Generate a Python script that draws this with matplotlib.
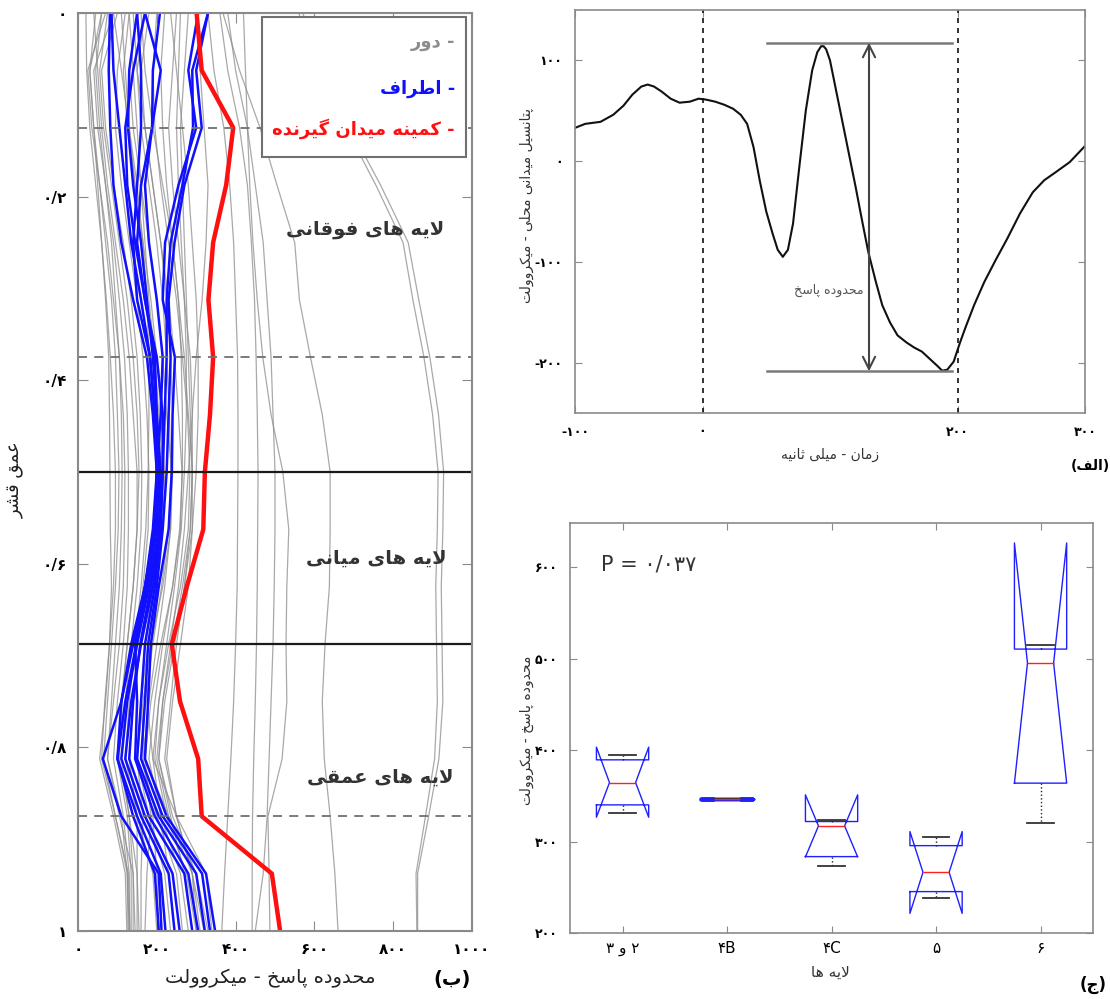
import numpy as np
import matplotlib
matplotlib.use('Agg')
import matplotlib.pyplot as plt
from matplotlib.patches import Rectangle

plt.rcParams['font.family'] = ['DejaVu Sans']

# ------------------------------------------------------
# matplotlib has no Arabic joining / bidi, so shape Persian text by hand

FORMS = {
    'ا': ('\uFE8D', '\uFE8E'), 'آ': ('\uFE81', '\uFE82'),
    'ب': ('\uFE8F', '\uFE90', '\uFE91', '\uFE92'),
    'پ': ('\uFB56', '\uFB57', '\uFB58', '\uFB59'),
    'ت': ('\uFE95', '\uFE96', '\uFE97', '\uFE98'),
    'ث': ('\uFE99', '\uFE9A', '\uFE9B', '\uFE9C'),
    'ج': ('\uFE9D', '\uFE9E', '\uFE9F', '\uFEA0'),
    'ح': ('\uFEA1', '\uFEA2', '\uFEA3', '\uFEA4'),
    'خ': ('\uFEA5', '\uFEA6', '\uFEA7', '\uFEA8'),
    'د': ('\uFEA9', '\uFEAA'), 'ذ': ('\uFEAB', '\uFEAC'),
    'ر': ('\uFEAD', '\uFEAE'), 'ز': ('\uFEAF', '\uFEB0'),
    'س': ('\uFEB1', '\uFEB2', '\uFEB3', '\uFEB4'),
    'ش': ('\uFEB5', '\uFEB6', '\uFEB7', '\uFEB8'),
    'ط': ('\uFEC1', '\uFEC2', '\uFEC3', '\uFEC4'),
    'ع': ('\uFEC9', '\uFECA', '\uFECB', '\uFECC'),
    'ف': ('\uFED1', '\uFED2', '\uFED3', '\uFED4'),
    'ق': ('\uFED5', '\uFED6', '\uFED7', '\uFED8'),
    'ک': ('\uFB8E', '\uFB8F', '\uFB90', '\uFB91'),
    'ك': ('\uFB8E', '\uFB8F', '\uFB90', '\uFB91'),
    'گ': ('\uFB92', '\uFB93', '\uFB94', '\uFB95'),
    'ل': ('\uFEDD', '\uFEDE', '\uFEDF', '\uFEE0'),
    'م': ('\uFEE1', '\uFEE2', '\uFEE3', '\uFEE4'),
    'ن': ('\uFEE5', '\uFEE6', '\uFEE7', '\uFEE8'),
    'ه': ('\uFEE9', '\uFEEA', '\uFEEB', '\uFEEC'),
    'و': ('\uFEED', '\uFEEE'),
    'ی': ('\uFBFC', '\uFBFD', '\uFBFE', '\uFBFF'),
    'ي': ('\uFBFC', '\uFBFD', '\uFBFE', '\uFBFF'),
}


def dual(c):
    return c in FORMS and len(FORMS[c]) == 4


def fa(s):
    res = []
    i, n = 0, len(s)
    while i < n:
        c = s[i]
        prev_join = i > 0 and dual(s[i - 1])
        if c == 'ل' and i + 1 < n and s[i + 1] == 'ا':
            res.append('\uFEFC' if prev_join else '\uFEFB')
            i += 2
            continue
        if c in FORMS:
            f = FORMS[c]
            next_join = dual(c) and i + 1 < n and s[i + 1] in FORMS
            if prev_join and next_join:
                g = f[3]
            elif prev_join:
                g = f[1]
            elif next_join:
                g = f[2]
            else:
                g = f[0]
            res.append(g)
        else:
            res.append({'(': ')', ')': '('}.get(c, c))
        i += 1
    return ''.join(reversed(res))

# ------------------------------------------------------
# (ب) response range vs cortical depth

depth = [0, 0.0625, 0.125, 0.1875, 0.25, 0.3125, 0.375, 0.4375, 0.5,
         0.5625, 0.625, 0.6875, 0.75, 0.8125, 0.875, 0.9375, 1.0]

far_lines = [
    [60, 30, 40, 50, 60, 70, 78, 80, 81, 82, 85, 80, 70, 55, 90, 120, 124],
    [70, 25, 35, 55, 75, 90, 105, 115, 119, 118, 115, 105, 90, 75, 110, 125, 127],
    [90, 40, 50, 70, 90, 105, 118, 125, 128, 128, 125, 115, 100, 90, 115, 130, 130],
    [100, 60, 70, 90, 115, 135, 150, 158, 162, 160, 150, 135, 120, 110, 130, 140, 140],
    [40, 50, 60, 75, 95, 115, 130, 140, 150, 150, 140, 125, 110, 100, 125, 135, 135],
    [120, 100, 95, 110, 130, 150, 165, 175, 180, 178, 165, 150, 140, 130, 150, 150, 150],
    [150, 130, 140, 160, 180, 200, 215, 225, 238, 235, 215, 185, 165, 150, 165, 160, 160],
    [180, 160, 170, 190, 210, 230, 245, 255, 264, 260, 240, 210, 185, 170, 185, 175, 170],
    [200, 190, 195, 210, 230, 250, 265, 278, 284, 280, 260, 230, 205, 190, 210, 230, 245],
    [250, 240, 230, 240, 255, 270, 285, 290, 290, 285, 265, 240, 215, 205, 235, 270, 290],
    [110, 120, 130, 145, 160, 175, 190, 200, 210, 205, 190, 170, 160, 170, 230, 300, 320],
    [130, 140, 150, 160, 170, 180, 195, 205, 215, 212, 200, 185, 175, 190, 250, 325, 340],
    [220, 210, 215, 225, 240, 255, 270, 280, 290, 285, 270, 250, 235, 220, 250, 290, 300],
    [280, 270, 260, 265, 270, 275, 280, 285, 290, 290, 280, 260, 240, 225, 250, 290, 310],
    [60, 45, 55, 70, 85, 95, 105, 110, 112, 110, 105, 95, 85, 75, 105, 140, 145],
    [45, 30, 40, 55, 70, 85, 95, 100, 104, 102, 95, 85, 75, 65, 95, 125, 130],
    [140, 150, 170, 190, 210, 225, 235, 240, 240, 235, 220, 200, 180, 165, 190, 200, 205],
    [160, 170, 190, 215, 240, 255, 262, 265, 265, 258, 240, 215, 195, 180, 210, 260, 280],
    [235, 250, 265, 280, 290, 300, 305, 305, 300, 290, 270, 245, 220, 205, 240, 300, 330],
    [90, 110, 130, 150, 165, 175, 180, 180, 178, 172, 160, 145, 130, 120, 150, 190, 200],
    [20, 22, 30, 45, 60, 72, 82, 90, 95, 95, 90, 80, 68, 60, 95, 128, 132],
    [75, 55, 65, 85, 105, 125, 140, 150, 155, 150, 140, 125, 112, 105, 130, 150, 155],
    [130, 115, 125, 145, 165, 185, 200, 210, 220, 215, 200, 178, 160, 150, 180, 220, 235],
    [170, 150, 160, 180, 200, 215, 225, 232, 236, 230, 212, 190, 170, 160, 200, 250, 265],
    [260, 255, 250, 255, 262, 270, 275, 275, 270, 262, 245, 225, 205, 195, 225, 275, 300],
    [300, 310, 320, 330, 325, 315, 300, 290, 280, 270, 255, 235, 215, 200, 230, 290, 320],
    [560, 620, 680, 756, 825, 850, 878, 900, 914, 912, 908, 910, 912, 905, 882, 858, 860],
    [570, 630, 690, 768, 838, 865, 893, 915, 928, 926, 922, 924, 926, 916, 890, 862, 862],
    [368, 410, 462, 505, 550, 562, 590, 620, 640, 640, 638, 627, 620, 625, 640, 652, 660],
    [420, 425, 430, 436, 444, 455, 469, 490, 520, 535, 530, 528, 530, 518, 482, 485, 487],
    [330, 345, 370, 385, 395, 400, 405, 406, 406, 405, 404, 400, 395, 388, 380, 372, 365],
    [360, 380, 410, 430, 440, 448, 452, 455, 457, 456, 455, 453, 450, 446, 443, 442, 442],
    [380, 400, 430, 450, 470, 480, 490, 495, 500, 500, 498, 495, 490, 485, 480, 470, 450],
]

surround_lines = [
    [81, 78, 82, 90, 110, 140, 175, 190, 200, 195, 170, 140, 110, 63, 110, 205, 212],
    [85, 90, 105, 120, 135, 160, 183, 195, 205, 200, 175, 148, 120, 100, 150, 210, 222],
    [150, 130, 127, 140, 160, 175, 190, 200, 210, 205, 180, 150, 125, 110, 160, 230, 245],
    [170, 210, 188, 160, 150, 170, 195, 200, 205, 210, 190, 160, 135, 120, 170, 240, 258],
    [170, 140, 120, 125, 145, 170, 200, 215, 215, 208, 185, 158, 140, 130, 180, 270, 290],
    [208, 190, 188, 170, 180, 200, 215, 210, 200, 190, 170, 145, 150, 145, 195, 280, 305],
    [330, 290, 292, 265, 235, 225, 225, 220, 215, 210, 195, 170, 160, 150, 205, 300, 322],
    [330, 300, 314, 270, 245, 230, 235, 230, 225, 215, 200, 178, 170, 160, 215, 315, 335],
    [305, 280, 300, 255, 221, 215, 246, 240, 238, 230, 205, 185, 178, 170, 225, 325, 348],
    [150, 160, 160, 150, 140, 150, 183, 195, 200, 195, 170, 135, 110, 100, 140, 195, 205],
]

rf_min = [301, 314, 394, 376, 343, 331, 343, 335, 322, 318, 276, 238, 259, 305, 314, 492, 513]

dashed_depths = [0.125, 0.375, 0.875]
solid_depths = [0.5, 0.6875]

depth_ticks = [0, 0.2, 0.4, 0.6, 0.8, 1.0]
depth_labels = ['۰', '۰/۲', '۰/۴', '۰/۶', '۰/۸', '۱']
range_ticks = [0, 200, 400, 600, 800, 1000]
range_labels = ['۰', '۲۰۰', '۴۰۰', '۶۰۰', '۸۰۰', '۱۰۰۰']

# (الف) example LFP trace
lfp_t = [-100, -92, -80, -70, -62, -55, -48, -43, -38, -32, -25, -18, -10, -3, 3, 10, 17, 24,
         30, 35, 40, 45, 50, 55, 59, 63, 67, 71, 76, 81, 86, 90, 93, 95, 97, 100, 104, 108,
         112, 116, 120, 125, 130, 136, 141, 147, 153, 160, 166, 172, 178, 184, 188, 192, 197,
         202, 206, 213, 221, 230, 239, 249, 259, 268, 277, 288, 300]
lfp_v = [33, 37, 39, 46, 55, 66, 74, 76, 74, 69, 62, 58, 59, 62, 61, 59, 56, 52,
         46, 37, 14, -20, -50, -72, -88, -95, -88, -62, -5, 50, 90, 108, 114, 114, 111, 100, 75, 50,
         25, 0, -25, -58, -90, -120, -143, -160, -173, -180, -185, -189, -196, -203, -208, -207, -199,
         -180, -166, -143, -120, -98, -77, -52, -31, -19, -11, -1, 15]
range_top = 117.5
range_bottom = -208.6
range_span = [50.6, 195.8]

# (ج) response range per layer
layer_names = ['۳ و ۲', '۴B', '۴C', '۵', '۶']
bx_med = [364.6, 346.5, 317.2, 266.4, 495.4]
bx_q1 = [340.2, 346.5, 283.6, 245.3, 364.0]
bx_q3 = [389.5, 346.5, 322.0, 295.6, 510.7]
bx_cilo = [326.7, 346.5, 283.2, 221.5, 364.0]
bx_cihi = [403.4, 346.5, 351.2, 311.0, 626.8]
bx_whislo = [331.0, 346.5, 273.4, 238.0, 320.8]
bx_whishi = [395.0, 346.5, 323.8, 305.5, 514.7]

# ------------------------------------------------------

fig = plt.figure(figsize=(11.1, 9.99), dpi=100)
frame_col = '#8a8a8a'

# ---------------- panel (ب)
ax = fig.add_axes([78 / 1110, 1 - 931 / 999, 394 / 1110, 918 / 999])
for v in far_lines:
    ax.plot(v, depth, color='#8c8c8c', lw=0.9, alpha=0.75)
for v in surround_lines:
    ax.plot(v, depth, color='#1010ff', lw=1.8)
ax.plot(rf_min, depth, color='#ff1010', lw=3.2)
for d in dashed_depths:
    ax.axhline(d, color='#707070', lw=1.3, dashes=(5, 4))
for d in solid_depths:
    ax.axhline(d, color='#1a1a1a', lw=1.6)

ax.set_xlim(0, 1000)
ax.set_ylim(1, 0)
ax.set_xticks(range_ticks)
ax.set_xticklabels(range_labels, fontsize=11, fontweight='bold')
ax.set_yticks(depth_ticks)
ax.set_yticklabels(depth_labels, fontsize=11, fontweight='bold')
ax.tick_params(direction='in', length=7, top=True, right=True, color=frame_col, pad=8)
for s in ax.spines.values():
    s.set_color(frame_col)
    s.set_linewidth(1.5)

ax.text(728, 0.236, fa('لایه های فوقانی'), fontsize=14, fontweight='bold',
        color='#333333', ha='center', va='center')
ax.text(758, 0.594, fa('لایه های میانی'), fontsize=14, fontweight='bold',
        color='#333333', ha='center', va='center')
ax.text(766, 0.832, fa('لایه های عمقی'), fontsize=14, fontweight='bold',
        color='#333333', ha='center', va='center')

ax.add_patch(Rectangle((0.467, 0.843), 0.518, 0.153, transform=ax.transAxes,
                       facecolor='white', edgecolor='#707070', lw=1.5, zorder=5))
ax.text(0.957, 0.968, fa('- دور'), transform=ax.transAxes, ha='right', va='center',
        fontsize=13, fontweight='bold', color='#8c8c8c', zorder=6)
ax.text(0.957, 0.917, fa('- اطراف'), transform=ax.transAxes, ha='right', va='center',
        fontsize=13, fontweight='bold', color='#1010ff', zorder=6)
ax.text(0.957, 0.874, fa('- کمینه میدان گیرنده'), transform=ax.transAxes, ha='right',
        va='center', fontsize=13, fontweight='bold', color='#ff1010', zorder=6)

fig.text(270 / 1110, 1 - 978 / 999, fa('محدوده پاسخ - میکروولت'), fontsize=14,
         ha='center', va='center', color='#222222')
fig.text(452 / 1110, 1 - 980 / 999, fa('(ب)'), fontsize=14, fontweight='bold',
         ha='center', va='center')
fig.text(16 / 1110, 1 - 480 / 999, fa('عمق قشر'), fontsize=13, rotation=90,
         ha='center', va='center', color='#222222')

# ---------------- panel (الف)
ax1 = fig.add_axes([575 / 1110, 1 - 413 / 999, 510 / 1110, 403 / 999])
ax1.plot(lfp_t, lfp_v, color='#111111', lw=1.5)
ax1.axvline(0, color='#111111', lw=1.2, dashes=(3, 3))
ax1.axvline(200, color='#111111', lw=1.2, dashes=(3, 3))
ax1.plot(range_span, [range_top, range_top], color='#7a7a7a', lw=1.8)
ax1.plot(range_span, [range_bottom, range_bottom], color='#7a7a7a', lw=1.8)
ax1.annotate('', xy=(130.6, range_bottom), xytext=(130.6, range_top),
             arrowprops=dict(arrowstyle='<->', color='#444444', lw=1.5,
                             mutation_scale=22, shrinkA=0, shrinkB=0))
ax1.text(126, -128, fa('محدوده پاسخ'), fontsize=9, color='#555555', ha='right', va='center')
ax1.set_xlim(-100, 300)
ax1.set_ylim(-250, 150)
ax1.set_xticks([-100, 0, 200, 300])
ax1.set_xticklabels(['-۱۰۰', '۰', '۲۰۰', '۳۰۰'], fontsize=9, fontweight='bold')
ax1.set_yticks([-200, -100, 0, 100])
ax1.set_yticklabels(['-۲۰۰', '-۱۰۰', '۰', '۱۰۰'], fontsize=9, fontweight='bold')
ax1.tick_params(direction='in', length=5, top=True, right=True, color=frame_col, pad=9)
for s in ax1.spines.values():
    s.set_color(frame_col)
    s.set_linewidth(1.2)
fig.text(527 / 1110, 1 - 205 / 999, fa('پتانسیل میدانی محلی - میکروولت'), fontsize=10,
         rotation=90, ha='center', va='center', color='#333333')
fig.text(830 / 1110, 1 - 455 / 999, fa('زمان - میلی ثانیه'), fontsize=10,
         ha='center', va='center', color='#333333')
fig.text(1090 / 1110, 1 - 466 / 999, fa('(الف)'), fontsize=10, fontweight='bold',
         ha='center', va='center')

# ---------------- panel (ج)
ax2 = fig.add_axes([570.3 / 1110, 1 - 933 / 999, 522.5 / 1110, 410.3 / 999])
stats = []
for i in range(len(layer_names)):
    stats.append(dict(med=bx_med[i], q1=bx_q1[i], q3=bx_q3[i], cilo=bx_cilo[i],
                      cihi=bx_cihi[i], whislo=bx_whislo[i], whishi=bx_whishi[i],
                      fliers=[]))
bp = ax2.bxp(stats, positions=range(1, len(layer_names) + 1), widths=0.5,
             shownotches=True, showfliers=False,
             boxprops=dict(color='#2020ff', lw=1.0),
             medianprops=dict(color='#ff2020', lw=1.0),
             whiskerprops=dict(color='#222222', lw=1.0, linestyle=':'),
             capprops=dict(color='#333333', lw=1.3))
bp['boxes'][1].set_linewidth(2.5)
ax2.set_xlim(0.5, 5.5)
ax2.set_ylim(200, 649)
ax2.set_xticks(range(1, len(layer_names) + 1))
ax2.set_xticklabels(layer_names, fontsize=11)
ax2.set_yticks([200, 300, 400, 500, 600])
ax2.set_yticklabels(['۲۰۰', '۳۰۰', '۴۰۰', '۵۰۰', '۶۰۰'], fontsize=9, fontweight='bold')
ax2.tick_params(direction='in', length=5, top=True, right=True, color=frame_col, pad=9)
ax2.tick_params(axis='x', pad=6)
for s in ax2.spines.values():
    s.set_color(frame_col)
    s.set_linewidth(1.2)
ax2.text(0.79, 603, 'P = ۰/۰۳۷', fontsize=15, color='#333333', ha='left', va='center')
fig.text(527 / 1110, 1 - 730 / 999, fa('محدوده پاسخ - میکروولت'), fontsize=10,
         rotation=90, ha='center', va='center', color='#333333')
fig.text(830 / 1110, 1 - 972 / 999, fa('لایه ها'), fontsize=11,
         ha='center', va='center', color='#333333')
fig.text(1093 / 1110, 1 - 985 / 999, fa('(ج)'), fontsize=12, fontweight='bold',
         ha='center', va='center')

fig.savefig('out.png', dpi=100)
